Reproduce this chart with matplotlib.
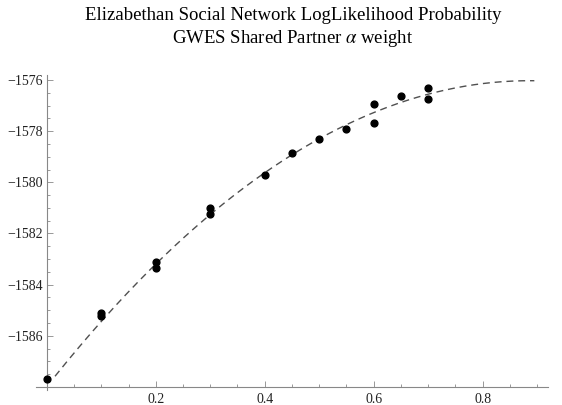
import numpy as np
import matplotlib
matplotlib.use("Agg")
import matplotlib.pyplot as plt
from matplotlib.ticker import MultipleLocator, FixedLocator

# alpha weight vs log likelihood
alpha = [0.0, 0.1, 0.1, 0.2, 0.2, 0.3, 0.3, 0.4, 0.45, 0.5,
         0.55, 0.6, 0.6, 0.65, 0.7, 0.7]
loglik = [-1587.70, -1585.09, -1585.22, -1583.13, -1583.35, -1581.02,
          -1581.22, -1579.73, -1578.85, -1578.30, -1577.92, -1576.95,
          -1577.69, -1576.62, -1576.33, -1576.76]

# a few points
curve_x = [0.015, 0.13, 0.4, 0.7, 0.895]
curve_y = [-1587.57, -1584.75, -1579.62, -1576.55, -1576.03]

x_ticks = [0.2, 0.4, 0.6, 0.8]
y_ticks = [-1586, -1584, -1582, -1580, -1578, -1576]

plt.rcParams['font.family'] = ['Liberation Serif', 'DejaVu Serif']
plt.rcParams['mathtext.fontset'] = 'stix'

fig = plt.figure(figsize=(5.62, 4.05), dpi=100)
ax = fig.add_axes([0.064, 0.037, 0.911, 0.778])

# quadratic through the curve readings
coef = np.polyfit(curve_x, curve_y, 2)
xs = np.linspace(curve_x[0], curve_x[-1], 200)
ax.plot(xs, np.polyval(coef, xs), color='#505050', lw=1.0,
        dashes=(5, 3.5), zorder=2)

ax.scatter(alpha, loglik, s=24, color='black', zorder=3, clip_on=False)

ax.set_xlim(-0.02, 0.92)
ax.set_ylim(-1588.12, -1575.8)

for s in ['top', 'right']:
    ax.spines[s].set_visible(False)
ax.spines['left'].set_position(('data', 0))
ax.spines['bottom'].set_position(('data', -1588.0))
for s in ['left', 'bottom']:
    ax.spines[s].set_color('#888888')
    ax.spines[s].set_linewidth(0.8)

ax.xaxis.set_major_locator(FixedLocator(x_ticks))
ax.xaxis.set_minor_locator(MultipleLocator(0.05))
ax.yaxis.set_major_locator(FixedLocator(y_ticks))
ax.yaxis.set_minor_locator(MultipleLocator(0.5))
ax.set_xticklabels([f"{t:.1f}" for t in x_ticks])
ax.set_yticklabels([f"\u2212{abs(t)}" for t in y_ticks])

ax.tick_params(which='both', direction='in', color='#888888', width=0.6,
               labelsize=10, labelcolor='#222222')
ax.tick_params(which='major', length=4)
ax.tick_params(which='minor', length=2.5)
ax.tick_params(axis='y', pad=3)
ax.tick_params(axis='x', pad=4)

fig.text(0.521, 0.951, "Elizabethan Social Network LogLikelihood Probability",
         ha='center', va='baseline', fontsize=13.5)
fig.text(0.521, 0.894, r"GWES Shared Partner $\alpha$ weight",
         ha='center', va='baseline', fontsize=13.5)

fig.savefig("out.png", dpi=100)
